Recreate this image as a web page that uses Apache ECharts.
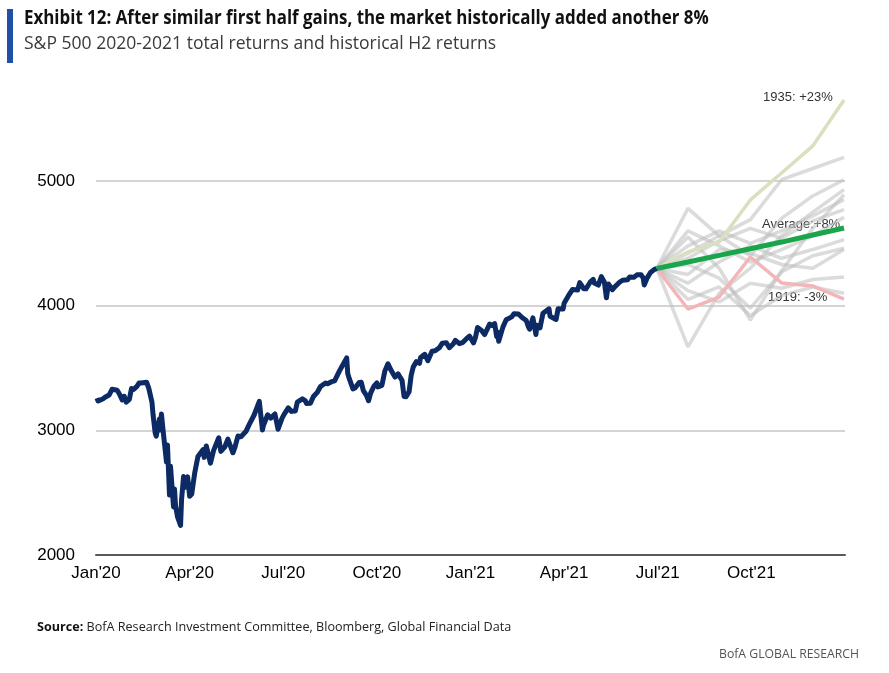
<!DOCTYPE html>
<html><head><meta charset="utf-8">
<script src="https://cdn.jsdelivr.net/npm/echarts@6/dist/echarts.min.js"></script>
<style>html,body{margin:0;padding:0;background:#fff}#c{width:889px;height:673px}</style>
</head><body><div id="c"></div>
<script>
// ---- S&P 500 index level ----
const spxDates = ['2020-01-02','2020-01-03','2020-01-06','2020-01-08','2020-01-10','2020-01-14','2020-01-17','2020-01-22','2020-01-24','2020-01-27','2020-01-29','2020-01-31',
'2020-02-03','2020-02-05','2020-02-07','2020-02-10','2020-02-12','2020-02-14','2020-02-19','2020-02-21','2020-02-24','2020-02-25','2020-02-27','2020-02-28',
'2020-03-02','2020-03-03','2020-03-04','2020-03-06','2020-03-09','2020-03-10','2020-03-12','2020-03-13','2020-03-16','2020-03-17','2020-03-18','2020-03-20','2020-03-23','2020-03-24','2020-03-26','2020-03-27','2020-03-30',
'2020-04-01','2020-04-03','2020-04-06','2020-04-09','2020-04-14','2020-04-15','2020-04-17','2020-04-21','2020-04-24','2020-04-29',
'2020-05-01','2020-05-05','2020-05-08','2020-05-13','2020-05-15','2020-05-18','2020-05-21','2020-05-26','2020-05-29',
'2020-06-03','2020-06-08','2020-06-11','2020-06-12','2020-06-16','2020-06-19','2020-06-23','2020-06-26','2020-06-30',
'2020-07-02','2020-07-06','2020-07-09','2020-07-13','2020-07-15','2020-07-20','2020-07-23','2020-07-24','2020-07-28','2020-07-31',
'2020-08-04','2020-08-07','2020-08-12','2020-08-14','2020-08-18','2020-08-21','2020-08-26','2020-08-28',
'2020-09-02','2020-09-03','2020-09-04','2020-09-08','2020-09-10','2020-09-14','2020-09-16','2020-09-18','2020-09-21','2020-09-23','2020-09-25','2020-09-28',
'2020-10-01','2020-10-02','2020-10-06','2020-10-09','2020-10-12','2020-10-15','2020-10-19','2020-10-22','2020-10-26','2020-10-28','2020-10-30',
'2020-11-02','2020-11-04','2020-11-06','2020-11-09','2020-11-12','2020-11-13','2020-11-17','2020-11-20','2020-11-24','2020-11-27',
'2020-12-01','2020-12-04','2020-12-08','2020-12-11','2020-12-15','2020-12-17','2020-12-21','2020-12-24','2020-12-28','2020-12-31',
'2021-01-04','2021-01-06','2021-01-08','2021-01-12','2021-01-15','2021-01-20','2021-01-22','2021-01-25','2021-01-27','2021-01-28','2021-01-29',
'2021-02-02','2021-02-05','2021-02-10','2021-02-12','2021-02-16','2021-02-19','2021-02-23','2021-02-25','2021-02-26',
'2021-03-01','2021-03-04','2021-03-05','2021-03-08','2021-03-11','2021-03-12','2021-03-17','2021-03-18','2021-03-19','2021-03-24','2021-03-26','2021-03-31',
'2021-04-01','2021-04-05','2021-04-09','2021-04-14','2021-04-16','2021-04-20','2021-04-22','2021-04-26','2021-04-29','2021-04-30',
'2021-05-04','2021-05-07','2021-05-10','2021-05-12','2021-05-14','2021-05-18','2021-05-21','2021-05-25','2021-05-28',
'2021-06-02','2021-06-04','2021-06-08','2021-06-11','2021-06-15','2021-06-17','2021-06-18','2021-06-21','2021-06-24','2021-06-28','2021-06-30'];
const spxValues = [3258,3235,3246,3253,3265,3283,3330,3322,3295,3244,3273,3226,
3249,3335,3328,3352,3379,3380,3386,3338,3226,3128,2979,2954,
3090,3003,3130,2972,2747,2882,2481,2711,2386,2529,2398,2305,2237,2447,2630,2541,2627,
2471,2489,2664,2790,2846,2783,2875,2737,2837,2940,
2831,2868,2930,2820,2864,2954,2949,2992,3044,
3123,3232,3002,3041,3125,3098,3131,3009,3100,
3130,3180,3152,3155,3227,3252,3236,3216,3218,3271,
3307,3351,3380,3373,3390,3397,3479,3508,
3581,3455,3427,3332,3339,3384,3385,3319,3281,3237,3298,3352,
3381,3348,3361,3477,3534,3483,3427,3453,3401,3271,3270,
3310,3443,3509,3551,3537,3585,3610,3558,3635,3638,
3662,3699,3702,3663,3695,3722,3695,3703,3735,3756,
3701,3748,3825,3801,3768,3852,3841,3855,3751,3787,3714,
3826,3887,3910,3935,3933,3907,3881,3829,3811,
3902,3768,3842,3821,3939,3943,3974,3915,3913,3889,3975,3973,
4020,4078,4129,4125,4185,4135,4135,4188,4211,4181,
4165,4233,4188,4063,4174,4128,4156,4188,4204,
4208,4230,4227,4247,4247,4222,4166,4225,4266,4291,4298];

// ---- Historical H2 paths, rebased to 30 Jun 2021 ----
const projDates = ['2021-06-30','2021-07-31','2021-08-31','2021-09-30','2021-10-31','2021-11-30','2021-12-31'];
const averagePath = [4298,4350,4403,4456,4510,4567,4623];
const path1935 = [4298,4430,4510,4848,5064,5281,5650];
const path1919 = [4298,3973,4069,4390,4182,4158,4053];
const otherPaths = [
  [4298,4420,4560,4690,5010,5100,5190],
  [4298,4780,4560,4400,4700,4880,5010],
  [4298,3670,4100,4300,4560,4750,4930],
  [4298,4550,4300,3885,4280,4620,4890],
  [4298,4480,4600,4500,4600,4720,4850],
  [4298,4380,4520,4620,4540,4680,4770],
  [4298,4600,4480,4350,4450,4560,4710],
  [4298,4180,4350,4480,4380,4450,4530],
  [4298,4330,4220,3980,4270,4400,4460],
  [4298,4250,4450,4420,4330,4300,4450],
  [4298,4120,4030,4180,4140,4210,4230],
  [4298,4050,4150,3920,4080,4150,4100]
];

// ---- Axis labels ----
const xTickLabels = ["Jan'20","Apr'20","Jul'20","Oct'20","Jan'21","Apr'21","Jul'21","Oct'21",""];
const yTicks = [2000,3000,4000,5000];

function toMonths(d){
  const p = d.split('-').map(Number);
  const dim = new Date(p[0], p[1], 0).getDate();
  return (p[0]-2020)*12 + (p[1]-1) + (p[2]-1)/dim;
}
const pair = (ds, vs) => ds.map((d,i)=>[toMonths(d), vs[i]]);

const series = [];
otherPaths.forEach((p,i)=>series.push({
  name:'hist'+i, type:'line', data:pair(projDates,p), symbol:'none', silent:true,
  lineStyle:{color:'rgba(190,190,190,0.55)', width:3.5}, z:1
}));
series.push({name:'1935', type:'line', data:pair(projDates,path1935), symbol:'none',
  lineStyle:{color:'#d9e0bf', width:3.5}, z:2});
series.push({name:'1919', type:'line', data:pair(projDates,path1919), symbol:'none',
  lineStyle:{color:'#f3b5b8', width:3.5}, z:2});
series.push({name:'Average', type:'line', data:pair(projDates,averagePath), symbol:'none',
  lineStyle:{color:'#19a54a', width:5}, z:3});
series.push({name:'S&P 500', type:'line', data:pair(spxDates,spxValues), symbol:'none',
  lineStyle:{color:'#0c2a63', width:5, join:'round'}, z:4});

const chart = echarts.init(document.getElementById('c'), null, {renderer:'canvas'});
const lblFont = '"Liberation Sans", Arial, sans-serif';
const txtFont = '"Open Sans", sans-serif';
chart.setOption({
  animation:false,
  backgroundColor:'#fff',
  grid:{left:96, right:44, top:56.3, bottom:118, containLabel:false},
  xAxis:{type:'value', min:0, max:24, interval:3,
    axisLine:{show:true, lineStyle:{color:'#595959', width:2}},
    axisTick:{show:false}, splitLine:{show:false},
    axisLabel:{color:'#000', fontSize:17, fontFamily:lblFont, margin:10,
      formatter:(v)=>xTickLabels[Math.round(v/3)] || ''}},
  yAxis:{type:'value', min:2000, max:6000, interval:1000,
    axisLine:{show:false}, axisTick:{show:false},
    axisLabel:{color:'#000', fontSize:17, fontFamily:lblFont, margin:21,
      formatter:(v)=>yTicks.indexOf(v)>=0 ? String(v) : ''},
    splitLine:{show:true, lineStyle:{color:['#d4d4d4','#d4d4d4','#d4d4d4','#d4d4d4','rgba(0,0,0,0)'], width:2}}},
  series:series,
  graphic:[
    {type:'rect', shape:{x:7, y:9, width:6, height:54}, style:{fill:'#1f50a8'}},
    {type:'text', x:24, y:9, scaleX:0.89, style:{text:'Exhibit 12: After similar first half gains, the market historically added another 8%',
      font:'bold 19px '+txtFont, fill:'#111', verticalAlign:'top'}},
    {type:'text', x:24, y:35, scaleX:0.975, style:{text:'S&P 500 2020-2021 total returns and historical H2 returns',
      font:'18px '+txtFont, fill:'#3a3a3a', verticalAlign:'top'}},
    {type:'text', x:37, y:621, scaleX:0.97, style:{
      text:'{b|Source:} {r|BofA Research Investment Committee, Bloomberg, Global Financial Data}', verticalAlign:'top',
      rich:{b:{font:'bold 13px '+txtFont, fill:'#111'},
            r:{font:'13px '+txtFont, fill:'#222'}}}},
    {type:'text', x:859, y:648, scaleX:0.94, style:{text:'BofA GLOBAL RESEARCH', align:'right', verticalAlign:'top',
      font:'13px '+txtFont, fill:'#555'}},
    {type:'text', x:763, y:91, style:{text:'1935: +23%', font:'13px '+lblFont, fill:'#333', verticalAlign:'top'}},
    {type:'text', x:762, y:218, style:{text:'Average:+8%', font:'13px '+lblFont, fill:'#333', verticalAlign:'top'}},
    {type:'text', x:768, y:291, style:{text:'1919: -3%', font:'13px '+lblFont, fill:'#333', verticalAlign:'top'}}
  ]
});
</script></body></html>
